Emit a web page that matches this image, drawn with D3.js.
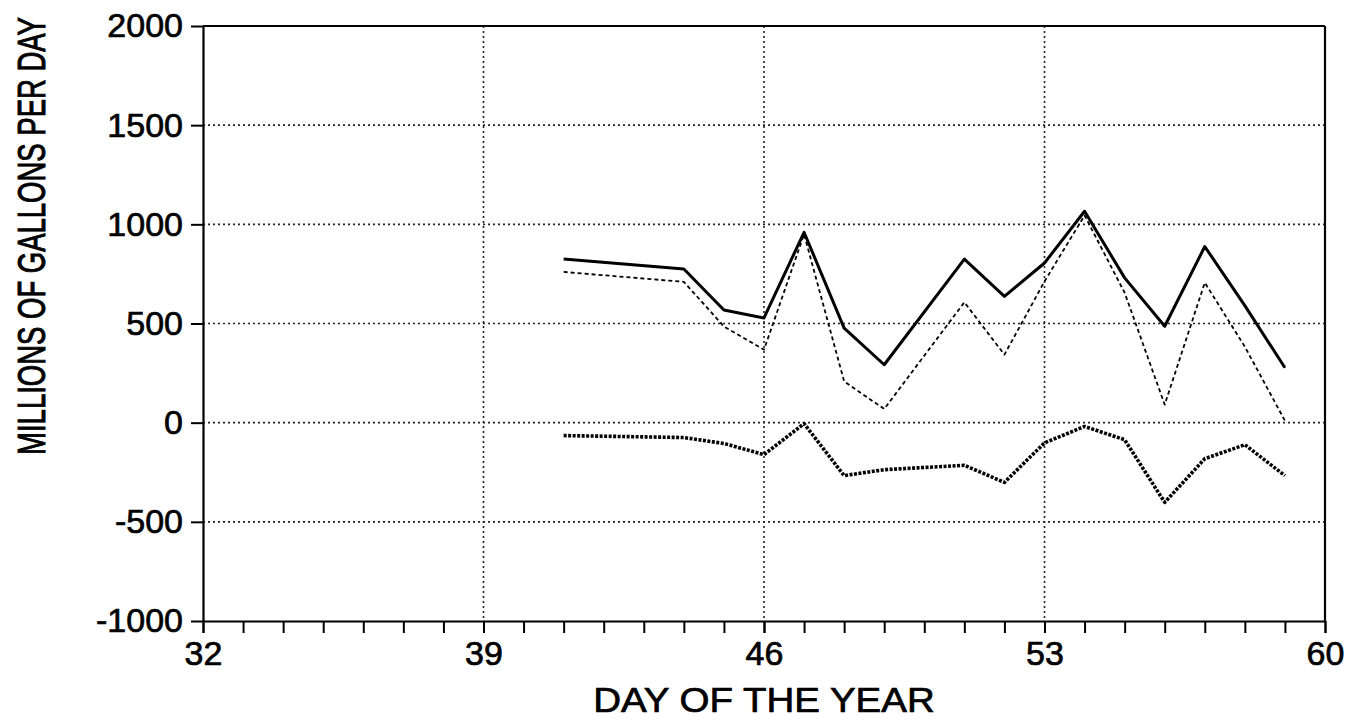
<!DOCTYPE html>
<html>
<head>
<meta charset="utf-8">
<script src="https://cdn.jsdelivr.net/npm/d3@7"></script>
<style>
  html, body { margin: 0; padding: 0; background: #fff; }
  svg { display: block; }
  text { font-family: "Liberation Sans", Arial, Helvetica, sans-serif; fill: #000; stroke: #000; stroke-width: 0.7px; }
</style>
</head>
<body>
<svg id="chart" width="1356" height="721"></svg>
<script>
// Daily flows, millions of gallons per day
const days        = [41, 44, 45, 46, 47, 48, 49, 51, 52, 53, 54, 55, 56, 57, 58, 59];
const totalFlow   = [825, 775, 568, 528, 960, 477, 292, 825, 637, 805, 1066, 730, 486, 888, 590, 277];
const partialFlow = [760, 710, 485, 368, 950, 208, 69, 607, 343, 712, 1045, 655, 91, 706, 383, 10];
const netFlow     = [-65, -75, -105, -161, -5, -267, -237, -215, -301, -102, -19, -86, -402, -182, -111, -267];

const xTicks = [32, 39, 46, 53, 60];
const yTicks = [-1000, -500, 0, 500, 1000, 1500, 2000];
const yGrid  = [-500, 0, 500, 1000, 1500];
const xGrid  = [39, 46, 53];

const svg = d3.select("#chart");
const plotLeft = 203, plotRight = 1325, plotTop = 26, plotBottom = 621;

const x = d3.scaleLinear().domain([32, 60]).range([plotLeft, plotRight]);
const y = d3.scaleLinear().domain([-1000, 2000]).range([plotBottom, plotTop]);

// dotted grid
svg.append("g").selectAll("line").data(yGrid).join("line")
  .attr("x1", plotLeft).attr("x2", plotRight)
  .attr("y1", d => y(d)).attr("y2", d => y(d))
  .attr("stroke", "#222").attr("stroke-width", 1.6)
  .attr("stroke-dasharray", "2,3");
svg.append("g").selectAll("line").data(xGrid).join("line")
  .attr("x1", d => x(d)).attr("x2", d => x(d))
  .attr("y1", plotTop).attr("y2", plotBottom)
  .attr("stroke", "#222").attr("stroke-width", 1.6)
  .attr("stroke-dasharray", "2,3");

// frame: top and right edges
svg.append("line").attr("x1", plotLeft).attr("x2", plotRight).attr("y1", plotTop).attr("y2", plotTop)
  .attr("stroke", "#000").attr("stroke-width", 2.2);
svg.append("line").attr("x1", plotRight).attr("x2", plotRight).attr("y1", plotTop).attr("y2", plotBottom)
  .attr("stroke", "#000").attr("stroke-width", 2.2);

// y axis
const yAxis = svg.append("g").attr("transform", `translate(${plotLeft},0)`)
  .call(d3.axisLeft(y).tickValues(yTicks).tickSize(12).tickSizeOuter(0).tickPadding(8)
    .tickFormat(d => String(d)));
yAxis.select(".domain").attr("stroke", "#000").attr("stroke-width", 2.2);
yAxis.selectAll(".tick line").attr("stroke", "#000").attr("stroke-width", 2);
yAxis.selectAll("text").attr("font-size", 34).attr("font-family", null);

// x axis: daily minor ticks, labelled weekly ticks
const xMinor = d3.range(32, 61);
const xAxisMinor = svg.append("g").attr("transform", `translate(0,${plotBottom})`)
  .call(d3.axisBottom(x).tickValues(xMinor).tickSize(12).tickSizeOuter(0).tickFormat(""));
xAxisMinor.select(".domain").attr("stroke", "#000").attr("stroke-width", 2.2);
xAxisMinor.selectAll(".tick line").attr("stroke", "#000").attr("stroke-width", 2);

const xAxis = svg.append("g").attr("transform", `translate(0,${plotBottom})`)
  .call(d3.axisBottom(x).tickValues(xTicks).tickSize(12).tickSizeOuter(0).tickPadding(8)
    .tickFormat(d => String(d)));
xAxis.select(".domain").remove();
xAxis.selectAll(".tick line").attr("stroke", "#000").attr("stroke-width", 2);
xAxis.selectAll("text").attr("font-size", 34).attr("font-family", null);

// axis titles
svg.append("text")
  .attr("transform", `translate(${(plotLeft + plotRight) / 2},712) scale(1.1,1)`)
  .attr("text-anchor", "middle").attr("font-size", 35)
  .text("DAY OF THE YEAR");

svg.append("text")
  .attr("transform", "translate(45,236) rotate(-90) scale(1,1.4)")
  .attr("text-anchor", "middle").attr("font-size", 27.5)
  .text("MILLIONS OF GALLONS PER DAY");

// series lines
const line = vals => d3.line().x((d, i) => x(days[i])).y(d => y(d))(vals);

svg.append("path").attr("d", line(partialFlow))
  .attr("fill", "none").attr("stroke", "#000").attr("stroke-width", 1.8)
  .attr("stroke-dasharray", "4,3").attr("stroke-linejoin", "round");

svg.append("path").attr("d", line(totalFlow))
  .attr("fill", "none").attr("stroke", "#000").attr("stroke-width", 3)
  .attr("stroke-linejoin", "round");

svg.append("path").attr("d", line(netFlow))
  .attr("fill", "none").attr("stroke", "#000").attr("stroke-width", 3.6)
  .attr("stroke-dasharray", "3,1.5").attr("stroke-linejoin", "round");
</script>
</body>
</html>
